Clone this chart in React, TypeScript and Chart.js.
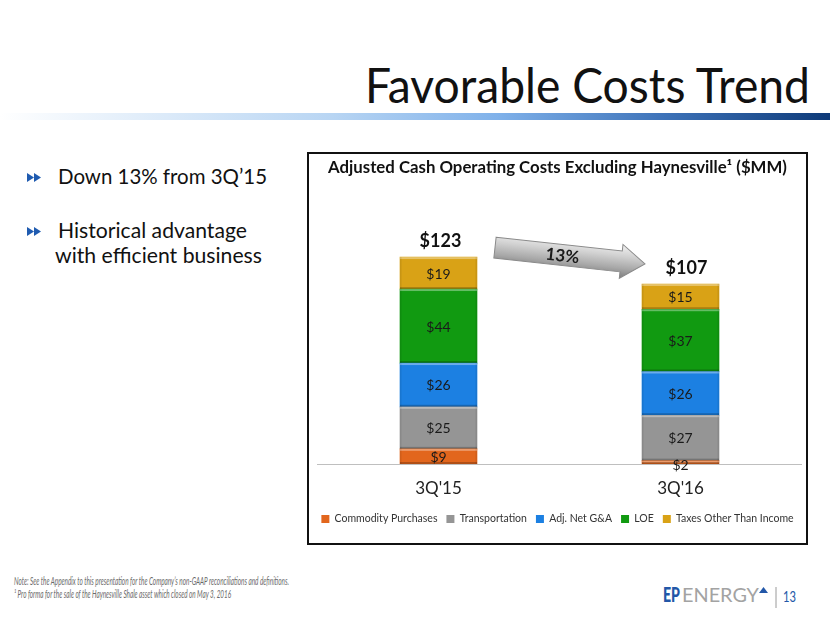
import React, { useEffect, useRef } from "react";
import { Chart, registerables } from "chart.js";

Chart.register(...registerables);

// ---------- data ----------
const categories = ["3Q'15", "3Q'16"];
const seriesNames = [
  "Commodity Purchases",
  "Transportation",
  "Adj. Net G&A",
  "LOE",
  "Taxes Other Than Income",
];
const commodityPurchases = [9, 2];
const transportation = [25, 27];
const adjNetGA = [26, 26];
const loe = [44, 37];
const taxesOtherThanIncome = [19, 15];
const totals = [123, 107];
const changeLabel = "13%";
const chartTitle = "Adjusted Cash Operating Costs Excluding Haynesville\u00B9 ($MM)";

const seriesColors = ["#E2661D", "#959595", "#1C80E2", "#119A11", "#D9A216"];

const FONT = "Lato, 'Open Sans', sans-serif";

// ---------- plugins ----------
const bevelPlugin = {
  id: "bevel",
  afterDatasetsDraw(chart: any) {
    const ctx = chart.ctx;
    ctx.save();
    chart.data.datasets.forEach((_ds: any, i: number) => {
      const meta = chart.getDatasetMeta(i);
      meta.data.forEach((el: any) => {
        const { x, y, base, width } = el.getProps(["x", "y", "base", "width"], true);
        const l = x - width / 2;
        const h = base - y;
        if (h < 2) return;
        ctx.fillStyle = "rgba(255,255,255,0.35)";
        ctx.fillRect(l, y, width, 2);
        ctx.fillStyle = "rgba(0,0,0,0.22)";
        ctx.fillRect(l, base - 2, width, 2);
        ctx.fillStyle = "rgba(0,0,0,0.08)";
        ctx.fillRect(l, y, 1.5, h);
        ctx.fillRect(l + width - 1.5, y, 1.5, h);
      });
    });
    ctx.restore();
  },
};

const labelPlugin = {
  id: "segLabels",
  afterDatasetsDraw(chart: any) {
    const ctx = chart.ctx;
    ctx.save();
    ctx.textAlign = "center";
    ctx.textBaseline = "middle";
    ctx.fillStyle = "#1a1a1a";
    ctx.font = `14px ${FONT}`;
    chart.data.datasets.forEach((ds: any, i: number) => {
      const meta = chart.getDatasetMeta(i);
      meta.data.forEach((el: any, j: number) => {
        const { x, y, base } = el.getProps(["x", "y", "base"], true);
        const h = base - y;
        const cy = h < 8 ? base + 1 : (y + base) / 2 + 1;
        ctx.fillText("$" + ds.data[j], x, cy);
      });
    });
    // totals
    const topMeta = chart.getDatasetMeta(chart.data.datasets.length - 1);
    ctx.font = `bold 18px ${FONT}`;
    ctx.fillStyle = "#111";
    topMeta.data.forEach((el: any, j: number) => {
      const { x, y } = el.getProps(["x", "y"], true);
      ctx.fillText("$" + totals[j], x + (j === 1 ? 6 : 2), y - 16);
    });
    ctx.restore();
  },
};

const arrowPlugin = {
  id: "changeArrow",
  afterDatasetsDraw(chart: any) {
    const topMeta = chart.getDatasetMeta(chart.data.datasets.length - 1);
    const a = topMeta.data[0].getProps(["x", "y", "width"], true);
    const b = topMeta.data[1].getProps(["x", "y", "width"], true);
    const x0 = a.x + a.width / 2 + 18;
    const y0 = a.y - 9.5;
    const x1 = b.x - b.width / 2 + 3;
    const y1 = b.y - 20;
    const L = Math.hypot(x1 - x0, y1 - y0);
    const ang = Math.atan2(y1 - y0, x1 - x0);
    const ctx = chart.ctx;
    ctx.save();
    ctx.translate(x0, y0);
    ctx.rotate(ang);
    const shaft = 10.5;
    const head = 17;
    const headLen = 24;
    ctx.beginPath();
    ctx.moveTo(0, -shaft);
    ctx.lineTo(L - headLen, -shaft);
    ctx.lineTo(L - headLen, -head);
    ctx.lineTo(L, 0);
    ctx.lineTo(L - headLen, head);
    ctx.lineTo(L - headLen, shaft);
    ctx.lineTo(0, shaft);
    ctx.closePath();
    const g = ctx.createLinearGradient(0, -head, 0, head);
    g.addColorStop(0, "#f2f2f2");
    g.addColorStop(0.35, "#d0d0d0");
    g.addColorStop(0.7, "#a8a8a8");
    g.addColorStop(1, "#7d7d7d");
    ctx.fillStyle = g;
    ctx.fill();
    ctx.strokeStyle = "#8a8a8a";
    ctx.lineWidth = 1;
    ctx.stroke();
    ctx.fillStyle = "#1a1a1a";
    ctx.font = `bold 17px ${FONT}`;
    ctx.textAlign = "center";
    ctx.textBaseline = "middle";
    ctx.fillText(changeLabel, L * 0.45, 1);
    ctx.restore();
  },
};

// ---------- chart ----------
function CostChart() {
  const ref = useRef<HTMLCanvasElement | null>(null);
  useEffect(() => {
    if (!ref.current) return;
    const seriesData = [commodityPurchases, transportation, adjNetGA, loe, taxesOtherThanIncome];
    const chart = new Chart(ref.current, {
      type: "bar",
      data: {
        labels: categories,
        datasets: seriesNames.map((name, i) => ({
          label: name,
          data: seriesData[i],
          backgroundColor: seriesColors[i],
          borderWidth: 0,
          barThickness: 77,
          yAxisID: "y",
        })),
      },
      options: {
        responsive: false,
        animation: false,
        devicePixelRatio: 1,
        layout: { padding: { left: 0, right: 0, top: 0, bottom: 8.75 } },
        plugins: {
          title: {
            display: true,
            text: chartTitle,
            color: "#111",
            font: { family: FONT, size: 16.8, weight: "bold" },
            padding: { top: 4, bottom: 33.5 },
          },
          legend: {
            position: "bottom",
            labels: {
              boxWidth: 8,
              boxHeight: 8,
              padding: 9,
              color: "#333",
              font: { family: FONT, size: 10.5 },
            },
          },
          tooltip: { enabled: false },
        },
        scales: {
          x: {
            stacked: true,
            grid: { display: false, drawTicks: false },
            border: { display: true, color: "#bfbfbf", width: 1 },
            ticks: { color: "#222", font: { family: FONT, size: 17 }, padding: 14 },
            afterFit: (scale: any) => {
              scale.height = 40.75;
            },
          },
          y: {
            stacked: true,
            display: true,
            min: 0,
            max: 150,
            ticks: { display: false },
            grid: { display: false, drawTicks: false },
            border: { display: false },
            afterFit: (scale: any) => {
              scale.width = 8.5;
            },
          },
          yRight: {
            position: "right",
            display: true,
            min: 0,
            max: 150,
            ticks: { display: false },
            grid: { display: false, drawTicks: false },
            border: { display: false },
            afterFit: (scale: any) => {
              scale.width = 4.5;
            },
          },
        },
      },
      plugins: [bevelPlugin, labelPlugin, arrowPlugin],
    } as any);
    return () => chart.destroy();
  }, []);
  return <canvas ref={ref} width={497} height={389} style={{ display: "block" }} />;
}

// ---------- slide ----------
function Bullet({ y }: { y: number }) {
  return (
    <g fill="#1F5BB0">
      <polygon points={`27,${y - 4.5} 34,${y} 27,${y + 4.5}`} />
      <polygon points={`34,${y - 4.5} 41,${y} 34,${y + 4.5}`} />
    </g>
  );
}

export default function App() {
  return (
    <div
      style={{
        position: "fixed",
        left: 0,
        top: 0,
        width: 830,
        height: 623,
        background: "#fff",
        overflow: "hidden",
      }}
    >
      <svg width={830} height={623} style={{ position: "absolute", left: 0, top: 0 }}>
        <defs>
          <linearGradient id="rule" x1="0" x2="1" y1="0" y2="0">
            <stop offset="0" stopColor="#ffffff" />
            <stop offset="0.4" stopColor="#b8d5f3" />
            <stop offset="0.6" stopColor="#7fb1ea" />
            <stop offset="0.8" stopColor="#3d72b8" />
            <stop offset="1" stopColor="#0e3a78" />
          </linearGradient>
        </defs>
        <text
          x={365}
          y={103}
          fontFamily={FONT}
          fontSize={48}
          fill="#111"
          textLength={445}
          lengthAdjust="spacingAndGlyphs"
        >
          Favorable Costs Trend
        </text>
        <rect x={0} y={113} width={830} height={7} fill="url(#rule)" />

        <Bullet y={177.5} />
        <text x={58} y={184} fontFamily={FONT} fontSize={21} fill="#111" textLength={209} lengthAdjust="spacingAndGlyphs">
          Down 13% from 3Q’15
        </text>
        <Bullet y={231.5} />
        <text x={58} y={238} fontFamily={FONT} fontSize={21} fill="#111" textLength={189} lengthAdjust="spacingAndGlyphs">
          Historical advantage
        </text>
        <text x={55} y={263} fontFamily={FONT} fontSize={21} fill="#111" textLength={207} lengthAdjust="spacingAndGlyphs">
          with efficient business
        </text>

        <text x={14} y={585} fontFamily={FONT} fontStyle="italic" fontSize={11.5} fill="#6a6a6a" textLength={275} lengthAdjust="spacingAndGlyphs">
          Note: See the Appendix to this presentation for the Company’s non-GAAP reconciliations and definitions.
        </text>
        <text x={14} y={598} fontFamily={FONT} fontStyle="italic" fontSize={11.5} fill="#6a6a6a" textLength={217} lengthAdjust="spacingAndGlyphs">
          ¹ Pro forma for the sale of the Haynesville Shale asset which closed on May 3, 2016
        </text>

        <text x={663} y={602} fontFamily={FONT} fontWeight="900" fontSize={20} fill="#2257a8" textLength={17} lengthAdjust="spacingAndGlyphs">
          EP
        </text>
        <text x={682} y={602} fontFamily={FONT} fontSize={20} fill="#a3a3a3" textLength={77} lengthAdjust="spacingAndGlyphs">
          ENERGY
        </text>
        <polygon points="759,593 763.5,587 768,593" fill="#2257a8" />
        <line x1={776} y1={587} x2={776} y2={608} stroke="#9a9a9a" strokeWidth={1} />
        <text x={783} y={602} fontFamily={FONT} fontSize={15} fill="#2257a8" textLength={13} lengthAdjust="spacingAndGlyphs">
          13
        </text>
      </svg>

      <div
        style={{
          position: "absolute",
          left: 307,
          top: 152,
          width: 501,
          height: 393,
          border: "2px solid #111",
          boxSizing: "border-box",
          background: "#fff",
        }}
      >
        <CostChart />
      </div>
    </div>
  );
}
